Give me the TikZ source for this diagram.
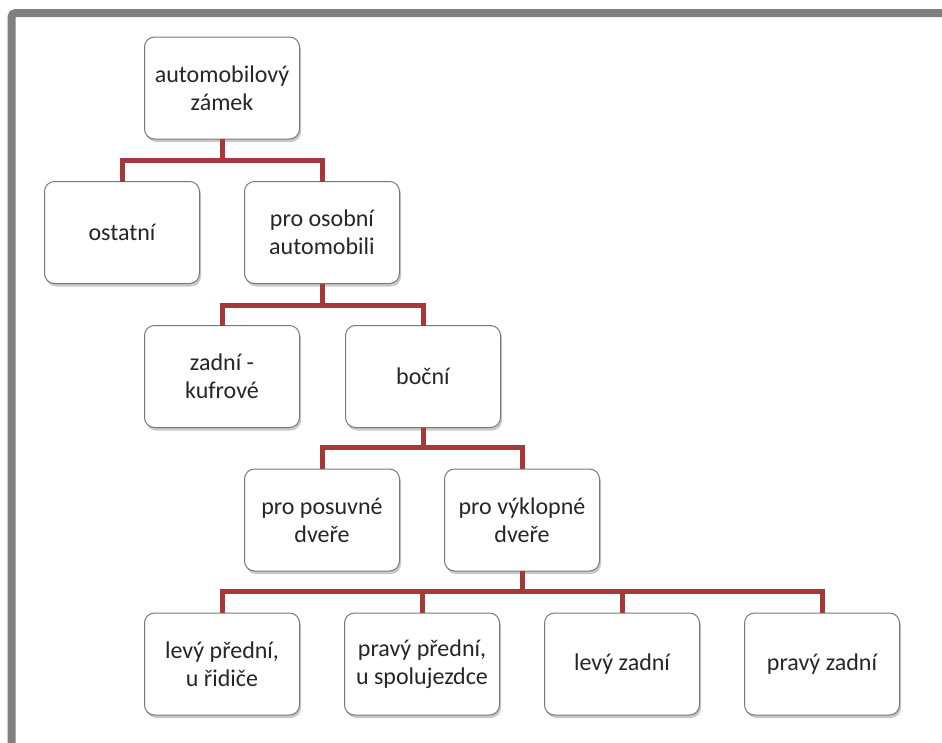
\documentclass[tikz,border=0pt]{standalone}
\usepackage{fontspec}
\setmainfont{Carlito}
\usetikzlibrary{shadows}
\definecolor{linkred}{RGB}{166,56,58}
\definecolor{boxedge}{RGB}{120,120,120}
\definecolor{framegray}{RGB}{128,128,128}
\begin{document}
\begin{tikzpicture}[x=1pt,y=-1pt,inner sep=0pt,outer sep=0pt,
treebox/.style={draw=boxedge,line width=1pt,rounded corners=10pt,fill=white,
minimum width=155pt,minimum height=102pt,align=center,text=black!85,
font=\fontsize{24}{28}\selectfont,
drop shadow={shadow xshift=1.5pt,shadow yshift=-3pt,opacity=0.35,fill=black!60}},
link/.style={draw=linkred,line width=5pt}]
\useasboundingbox (0,0) rectangle (942,742);
\fill[white] (0,0) rectangle (942,742);
\draw[framegray,line width=8pt,rounded corners=4pt] (11.5,760) -- (11.5,13) -- (960,13);
\draw (222,88) node[treebox] (root) {automobilový\\zámek};
\draw (122,232.5) node[treebox] (ostatni) {ostatní};
\draw (322,232.5) node[treebox] (osobni) {pro osobní\\automobili};
\draw (222,376.5) node[treebox] (zadni) {zadní -\\kufrové};
\draw (423,376.5) node[treebox] (bocni) {boční};
\draw (322,520) node[treebox] (posuvne) {pro posuvné\\dveře};
\draw (522,520) node[treebox] (vyklopne) {pro výklopné\\dveře};
\draw (222,664) node[treebox] (levyp) {levý přední,\\u řidiče};
\draw (422,664) node[treebox] (pravyp) {pravý přední,\\u spolujezdce};
\draw (622,664) node[treebox] (levyz) {levý zadní};
\draw (822,664) node[treebox] (pravyz) {pravý zadní};
\draw[link] (root.south) -- ++(0,21.5) -| (ostatni.north);
\draw[link] (root.south) -- ++(0,21.5) -| (osobni.north);
\draw[link] (osobni.south) -- ++(0,21.5) -| (zadni.north);
\draw[link] (osobni.south) -- ++(0,21.5) -| (bocni.north);
\draw[link] (bocni.south) -- ++(0,20) -| (posuvne.north);
\draw[link] (bocni.south) -- ++(0,20) -| (vyklopne.north);
\draw[link] (vyklopne.south) -- ++(0,20) -| (levyp.north);
\draw[link] (vyklopne.south) -- ++(0,20) -| (pravyp.north);
\draw[link] (vyklopne.south) -- ++(0,20) -| (levyz.north);
\draw[link] (vyklopne.south) -- ++(0,20) -| (pravyz.north);
\end{tikzpicture}
\end{document}
